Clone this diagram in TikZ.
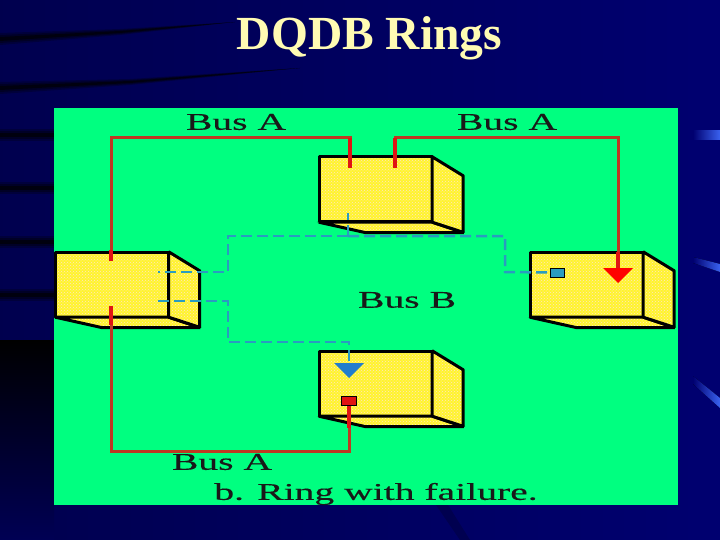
\documentclass[tikz,border=0pt]{standalone}
\usepackage{fontspec}
\setmainfont{Liberation Serif}
\newfontfamily\busfont[FakeStretch=1.65,FakeBold=0.3]{Liberation Serif}
\usepackage{tikz}
\usetikzlibrary{arrows.meta}
\usetikzlibrary{patterns}
\definecolor{slide}{HTML}{000070}
\definecolor{panel}{HTML}{00FF80}
\definecolor{boxface}{HTML}{FFF42E}
\definecolor{busred}{HTML}{BE3A22}
\definecolor{stubred}{HTML}{E01414}
\definecolor{busblue}{HTML}{2A9CC0}
\definecolor{glint}{HTML}{3A62F0}

\begin{document}
\begin{tikzpicture}[x=1pt, y=-1pt]

      \tikzset{dotted face/.style = {postaction={pattern=crosshatch dots,pattern color=orange!22},postaction={draw=black,line width=3pt,line join=bevel}}}
      \tikzset{unit/.style = {shape=rectangle,fill=boxface,dotted face,minimum width=113pt,minimum height=65pt,inner sep=0pt}}
      \tikzset{face/.style = {fill=boxface,dotted face}}
      \tikzset{busa/.style = {draw=busred,line width=3pt}}
      \tikzset{stub/.style = {draw=stubred,line width=3.5pt}}
      \tikzset{busb/.style = {draw=busblue,line width=2.5pt,dash pattern=on 11pt off 5pt}}
      \tikzset{tap/.style = {shape=rectangle,draw=black,line width=1pt,minimum width=14pt,minimum height=9pt,inner sep=0pt}}
      \tikzset{buslabel/.style = {font=\busfont\fontsize{24}{24}\selectfont,text=black!90,inner sep=0pt}}
      \tikzset{streak/.style = {fill=black}}
      % background
      \useasboundingbox (0,0) rectangle (720,540);
      \fill[left color=slide!70!black, right color=slide] (0,0) rectangle (720,540);
      \fill[top color=black, bottom color=slide!75!black] (0,340) rectangle (54,540);
      \foreach \w/\o in {6/0.25,4/0.35,2/0.6}{
        \fill[streak,opacity=\o] (0,39-\w) -- (120,32-\w/2) -- (235,22) -- (120,32+\w/2) -- (0,39+\w) -- cycle;
        \fill[streak,opacity=\o] (0,88-\w) -- (130,82-\w/2) -- (300,68) -- (130,82+\w/2) -- (0,88+\w) -- cycle;
        \fill[streak,opacity=\o] (0,135-\w) rectangle (54,135+\w);
        \fill[streak,opacity=\o] (0,188-\w) rectangle (54,188+\w);
        \fill[streak,opacity=\o] (0,242-\w) rectangle (54,242+\w);
        \fill[streak,opacity=\o] (0,295-\w) rectangle (54,295+\w);
      }
      \fill[streak,opacity=0.2] (436,505) -- (448,505) -- (470,540) -- (460,540) -- cycle;
      \fill[left color=slide, middle color=glint, right color=glint] (693,131) -- (720,131) -- (720,140) -- (693,140) -- cycle;
      \fill[left color=slide, middle color=glint, right color=glint] (693,257) -- (720,264) -- (720,272) -- (693,263) -- cycle;
      \fill[left color=slide, middle color=glint, right color=glint] (693,376) -- (720,398) -- (720,408) -- (693,384) -- cycle;
      \fill[panel] (54,108) rectangle (678,505);
      % title
      \node[font=\bfseries\fontsize{47.5}{48}\selectfont,text=yellow!30!white,inner sep=0pt] (title) at (369.5,38) {DQDB Rings};
      % units
      \node[unit] (west) at (112,284.5) {};
      \node[unit] (north) at (375.5,189.5) {};
      \node[unit] (east) at (586.5,284.5) {};
      \node[unit] (south) at (375.5,383.5) {};
      \foreach \n in {west,north,east,south}{
        \draw[face] (\n.south west) -- ++(47,10.5) -- ++(98,0) -- (\n.south east) -- cycle;
        \draw[face] (\n.north east) -- ++(31,19) -- ++(0,56.5) -- (\n.south east) -- cycle;
      }
      % labels
      \node[buslabel] (busatl) at (236,122) {Bus A};
      \node[buslabel] (busatr) at (507,122) {Bus A};
      \node[buslabel] (busb) at (407,300) {Bus B};
      \node[buslabel] (busabt) at (222,462) {Bus A};
      \node[buslabel] (caption) at (376,494) {b. Ring with failure.};
      % taps
      \node[tap,fill=busblue] (read) at (557,272.5) {};
      \node[tap,fill=stubred,minimum width=15pt] (fail) at (349,400.5) {};
      % bus ends
      \coordinate (a1) at (350,168);
      \coordinate (a2) at (111,261);
      \coordinate (a3) at (395,168);
      \coordinate (a4) at (618,283);
      \coordinate (a5) at (111,306);
      \coordinate (b1) at (348,213);
      \coordinate (b2) at (158,272);
      \coordinate (b3) at (158,301);
      \coordinate (b4) at (349,378);
      \coordinate (bj) at (348,236);
      %edges
      \draw[busa] (a1) |- (a2 |- 0,138) -- (a2);
      \draw[busa] (a3) |- (a4 |- 0,138) -- (618,270);
      \draw[busa] (a5) |- (fail.south |- 0,451) -- (fail.south);
      \draw[stub] (a1) -- (350,138);
      \draw[stub] (a3) -- (395,138);
      \draw[stub] (618,252) -- (618,270);
      \draw[stub] (a2) -- (111,250);
      \draw[stub] (a5) -- (111,325);
      \draw[stub] (fail.south) -- (349,428);
      \fill[red] (603,268) -- (633,268) -- (a4) -- cycle;
      \draw[busb] (bj) -- (b1);
      \draw[busb] (bj) -- (228,236) -- (228,272) -- (b2);
      \draw[busb] (bj) -- (505,236) -- (505,272) -- (read.west);
      \draw[busb] (b3) -- (228,301) -- (228,342) -- (349,342) -- (349,363);
      \fill[busblue!80!blue] (334,363) -- (364,363) -- (b4) -- cycle;

\end{tikzpicture}
\end{document}
